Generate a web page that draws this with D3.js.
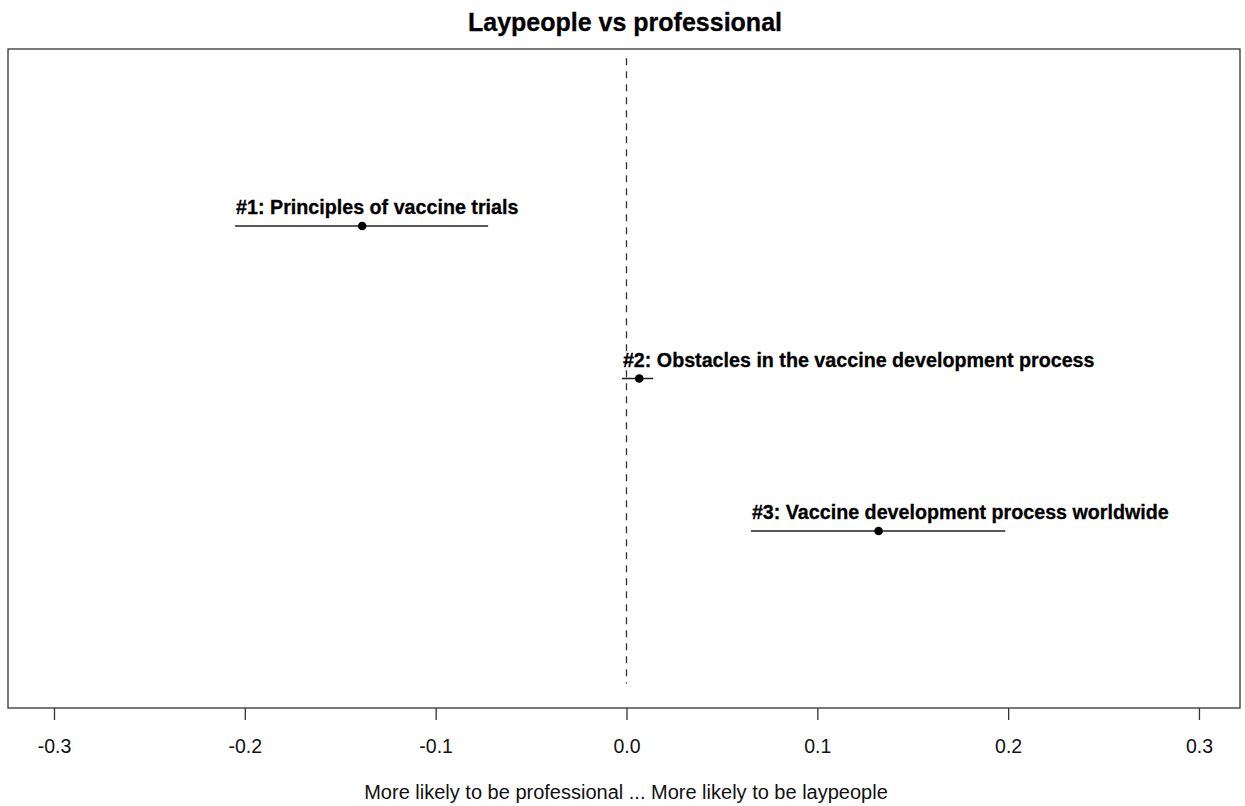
<!DOCTYPE html>
<html>
<head>
<meta charset="utf-8">
<script src="https://cdn.jsdelivr.net/npm/d3@7"></script>
<style>
  body { margin: 0; background: #fff; }
  svg { display: block; }
</style>
</head>
<body>
<div id="chart"></div>
<script>
// topics, estimates and 95% intervals
const topics = [
    "#1: Principles of vaccine trials",
    "#2: Obstacles in the vaccine development process",
    "#3: Vaccine development process worldwide"
];
const estimates = [-0.1385, 0.0067, 0.1321];
const lowers = [-0.2051, -0.0024, 0.0652];
const uppers = [-0.0725, 0.0140, 0.1985];
const xTicks = [-0.3, -0.2, -0.1, 0.0, 0.1, 0.2, 0.3];

const width = 1245, height = 806;
const box = { left: 8, right: 1240, top: 49, bottom: 708 };

const svg = d3.select("#chart")
    .append("svg")
    .attr("width", width)
    .attr("height", height);

const x = d3.scaleLinear()
    .domain([-0.3241, 0.3215])
    .range([box.left, box.right]);

// rows 1..3 from the top, ylim 0..4 with the usual 4% padding
const y = d3.scaleLinear()
    .domain([-0.16, 4.16])
    .range([box.top, box.bottom]);

const data = topics.map((t, i) => ({
    topic: t, est: estimates[i], lo: lowers[i], hi: uppers[i], row: i + 1
}));

// title
svg.append("text")
    .attr("x", 625)
    .attr("y", 31)
    .attr("text-anchor", "middle")
    .style("font", "bold 25px 'Liberation Sans', Arial, sans-serif")
    .attr("stroke", "#000")
    .attr("stroke-width", 0.3)
    .text("Laypeople vs professional");

// zero reference line
svg.append("line")
    .attr("x1", x(0)).attr("x2", x(0))
    .attr("y1", y(-0.1)).attr("y2", y(4))
    .attr("stroke", "#333")
    .attr("stroke-width", 1.3)
    .attr("stroke-dasharray", "7,6");

// intervals
svg.selectAll("line.ci")
    .data(data)
    .join("line")
    .attr("class", "ci")
    .attr("x1", d => x(d.lo))
    .attr("x2", d => x(d.hi))
    .attr("y1", d => y(d.row))
    .attr("y2", d => y(d.row))
    .attr("stroke", "#222")
    .attr("stroke-width", 1.4);

svg.selectAll("circle")
    .data(data)
    .join("circle")
    .attr("cx", d => x(d.est))
    .attr("cy", d => y(d.row))
    .attr("r", 4.3)
    .attr("fill", "#000");

svg.selectAll("text.topic")
    .data(data)
    .join("text")
    .attr("class", "topic")
    .attr("x", d => x(d.lo) + 1)
    .attr("y", d => y(d.row) - 12)
    .style("font", "bold 19.7px 'Liberation Sans', Arial, sans-serif")
    .attr("fill", "#000")
    .attr("stroke", "#000")
    .attr("stroke-width", 0.3)
    .text(d => d.topic);

// frame
svg.append("rect")
    .attr("x", box.left)
    .attr("y", box.top)
    .attr("width", box.right - box.left)
    .attr("height", box.bottom - box.top)
    .attr("fill", "none")
    .attr("stroke", "#333")
    .attr("stroke-width", 1.3);

// x axis, plain hyphen for negatives as in R
const fmt = d => d3.format(".1f")(d).replace("\u2212", "-");
const axis = svg.append("g")
    .attr("transform", `translate(0,${box.bottom})`)
    .call(d3.axisBottom(x)
        .tickValues(xTicks)
        .tickFormat(fmt)
        .tickSize(12)
        .tickPadding(19));
axis.select(".domain").remove();
axis.selectAll(".tick line").attr("stroke", "#333").attr("stroke-width", 1.3);
axis.selectAll(".tick text")
    .attr("fill", "#111")
    .style("font", "19.5px 'Liberation Sans', Arial, sans-serif");

svg.append("text")
    .attr("x", 626)
    .attr("y", 799)
    .attr("text-anchor", "middle")
    .attr("fill", "#111")
    .style("font", "20px 'Liberation Sans', Arial, sans-serif")
    .text("More likely to be professional ... More likely to be laypeople");
</script>
</body>
</html>
